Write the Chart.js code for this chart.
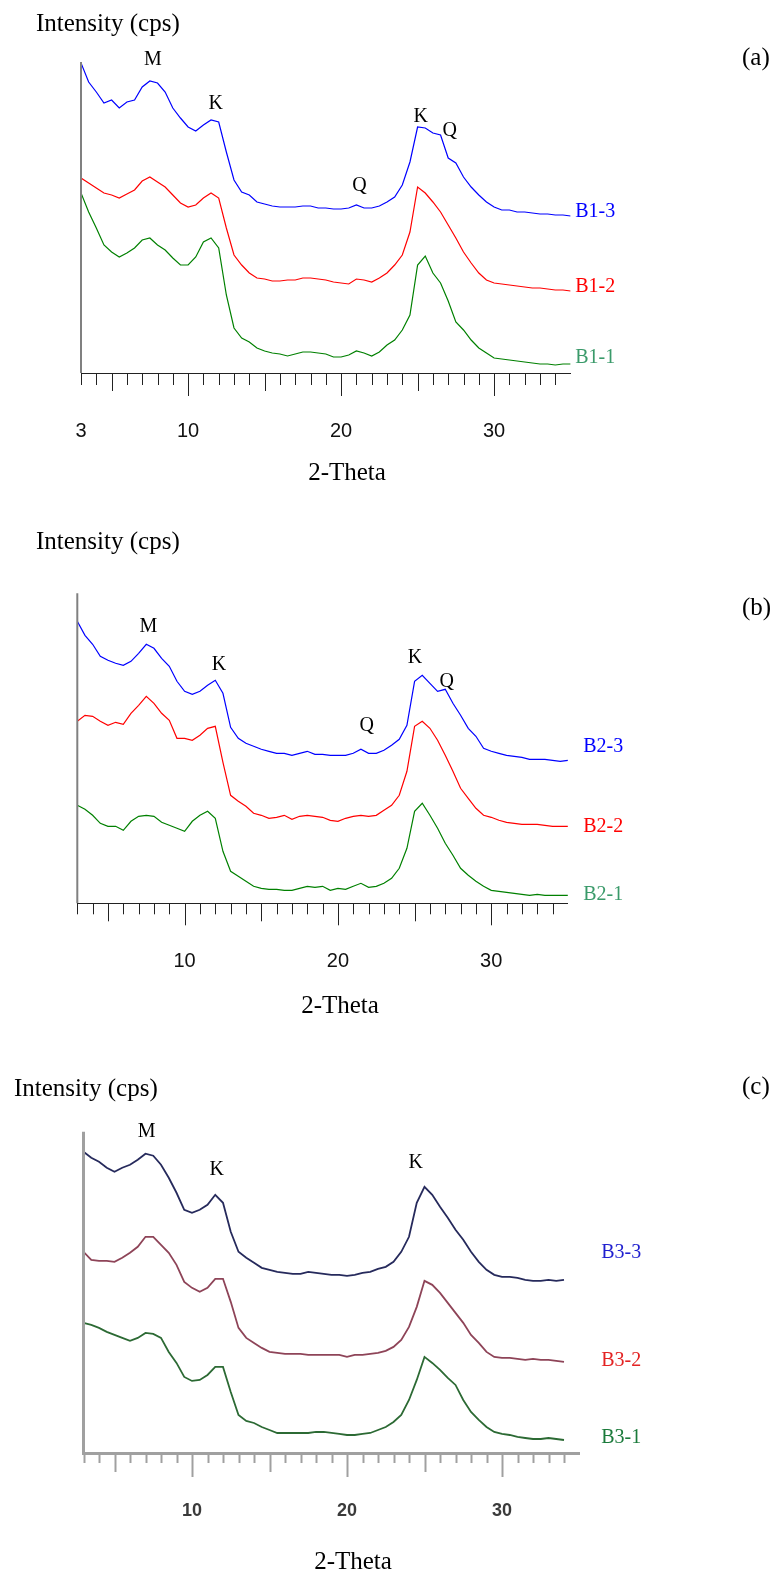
<!DOCTYPE html>
<html>
<head>
<meta charset="utf-8">
<script src="https://cdn.jsdelivr.net/npm/chart.js@4.4.1/dist/chart.umd.min.js"></script>
<style>
  html, body { margin: 0; padding: 0; background: #fff; overflow: hidden; }
  body { width: 782px; height: 1573px; position: relative; font-family: "Liberation Serif", "Times New Roman", serif; }
  .txt { position: absolute; white-space: nowrap; color: #000; line-height: 1; transform: translate(-50%, -50%); }
  .lft { transform: translate(0, -50%); }
  canvas { position: absolute; left: 0; }
</style>
</head>
<body>
<canvas id="chartA" width="782" height="509" style="top:0px"></canvas>
<canvas id="chartB" width="782" height="509" style="top:520px"></canvas>
<canvas id="chartC" width="782" height="529" style="top:1060px"></canvas>

<div class="txt lft" style="left:36px; top:22px; font-size:25px">Intensity (cps)</div>
<div class="txt lft" style="left:742px; top:56px; font-size:25px">(a)</div>
<div class="txt" style="left:347px; top:471px; font-size:25px">2-Theta</div>

<div class="txt lft" style="left:36px; top:540px; font-size:25px">Intensity (cps)</div>
<div class="txt lft" style="left:742px; top:606px; font-size:25px">(b)</div>
<div class="txt" style="left:340px; top:1004px; font-size:25px">2-Theta</div>

<div class="txt lft" style="left:14px; top:1087px; font-size:25px">Intensity (cps)</div>
<div class="txt lft" style="left:742px; top:1085px; font-size:25px">(c)</div>
<div class="txt" style="left:353px; top:1560px; font-size:25px">2-Theta</div>

<script>
// 2-theta positions (degrees)
const theta = [3, 3.5, 4, 4.5, 5, 5.5, 6, 6.5, 7, 7.5, 8, 8.5, 9, 9.5, 10, 10.5, 11, 11.5, 12, 12.5,
  13, 13.5, 14, 14.5, 15, 15.5, 16, 16.5, 17, 17.5, 18, 18.5, 19, 19.5, 20, 20.5, 21, 21.5, 22, 22.5,
  23, 23.5, 24, 24.5, 25, 25.5, 26, 26.5, 27, 27.5, 28, 28.5, 29, 29.5, 30, 30.5, 31, 31.5, 32, 32.5,
  33, 33.5, 34, 34.5, 35]
const thetaC = [3, 3.5, 4, 4.5, 5, 5.5, 6, 6.5, 7, 7.5, 8, 8.5, 9, 9.5, 10, 10.5, 11, 11.5, 12, 12.5,
  13, 13.5, 14, 14.5, 15, 15.5, 16, 16.5, 17, 17.5, 18, 18.5, 19, 19.5, 20, 20.5, 21, 21.5, 22, 22.5,
  23, 23.5, 24, 24.5, 25, 25.5, 26, 26.5, 27, 27.5, 28, 28.5, 29, 29.5, 30, 30.5, 31, 31.5, 32, 32.5,
  33, 33.5, 34]

// intensities (arbitrary units, offset stacked as in the figure)
const b13 = [310, 291, 281, 270, 273, 265, 271, 273, 286, 292, 290, 281, 265, 255, 246, 242, 248, 253, 251, 221,
  193, 181, 178, 171, 169, 167, 166, 166, 166, 167, 167, 165, 165, 164, 164, 165, 168, 165, 165, 167,
  171, 176, 188, 211, 246, 245, 240, 238, 215, 210, 196, 186, 178, 171, 166, 163, 163, 161, 161, 160,
  159, 159, 158, 158, 157]
const b12 = [195, 190, 185, 180, 178, 175, 179, 183, 192, 196, 191, 186, 178, 170, 166, 168, 175, 180, 175, 145,
  118, 108, 100, 95, 94, 92, 92, 93, 93, 95, 95, 94, 93, 91, 90, 89, 94, 93, 91, 95,
  100, 108, 118, 141, 186, 180, 171, 161, 148, 135, 121, 110, 100, 93, 90, 89, 88, 87, 86, 85,
  85, 84, 83, 83, 82]
const b11 = [180, 161, 145, 128, 121, 116, 120, 125, 133, 135, 128, 123, 115, 108, 108, 116, 131, 135, 125, 78,
  45, 35, 31, 25, 22, 20, 19, 17, 19, 21, 21, 20, 19, 16, 16, 18, 22, 20, 17, 21,
  28, 33, 43, 58, 108, 117, 100, 90, 72, 51, 43, 33, 25, 20, 15, 14, 13, 12, 11, 10,
  9, 9, 8, 9, 9]

const b23 = [282, 268, 259, 247, 243, 240, 238, 242, 250, 259, 255, 245, 237, 222, 212, 209, 212, 218, 223, 210,
  176, 165, 160, 157, 154, 152, 150, 150, 148, 150, 152, 149, 149, 148, 148, 148, 150, 154, 150, 150,
  153, 158, 164, 178, 222, 228, 220, 212, 214, 200, 188, 175, 167, 155, 152, 150, 148, 147, 146, 144,
  144, 144, 143, 142, 143]
const b22 = [182, 188, 187, 182, 178, 181, 179, 190, 198, 207, 200, 190, 183, 165, 165, 163, 168, 175, 177, 141,
  108, 102, 97, 90, 88, 85, 86, 88, 84, 87, 88, 87, 86, 83, 82, 85, 87, 88, 87, 88,
  93, 98, 108, 132, 177, 182, 175, 163, 148, 132, 115, 105, 95, 88, 86, 83, 81, 80, 79, 79,
  79, 78, 77, 77, 77]
const b21 = [98, 94, 88, 80, 77, 77, 73, 82, 87, 88, 87, 81, 78, 75, 72, 82, 88, 92, 85, 52,
  32, 27, 22, 17, 15, 14, 14, 13, 13, 15, 17, 16, 17, 13, 15, 14, 17, 20, 16, 17,
  20, 25, 35, 55, 92, 100, 88, 75, 60, 48, 35, 28, 22, 17, 13, 12, 11, 10, 9, 8,
  9, 8, 8, 8, 8]

const b33 = [301, 295, 291, 285, 281, 285, 288, 293, 299, 297, 288, 275, 260, 243, 240, 243, 248, 258, 250, 221,
  201, 195, 190, 185, 183, 181, 180, 179, 179, 181, 180, 179, 178, 178, 177, 178, 180, 181, 184, 186,
  191, 201, 216, 250, 266, 258, 246, 235, 223, 213, 201, 191, 183, 178, 176, 176, 175, 173, 172, 172,
  173, 172, 173]
const b32 = [201, 193, 192, 192, 191, 195, 200, 206, 216, 216, 208, 200, 188, 171, 165, 161, 165, 174, 174, 151,
  125, 115, 110, 105, 101, 100, 99, 99, 99, 98, 98, 98, 98, 98, 96, 98, 98, 99, 100, 102,
  106, 113, 126, 146, 172, 168, 160, 150, 140, 130, 118, 110, 101, 96, 95, 95, 94, 93, 94, 93,
  93, 92, 91]
const b31 = [130, 128, 125, 121, 118, 115, 112, 115, 120, 119, 115, 101, 90, 76, 72, 73, 78, 86, 86, 61,
  38, 32, 30, 26, 23, 20, 20, 20, 20, 20, 21, 21, 20, 19, 18, 18, 19, 20, 23, 26,
  31, 38, 53, 73, 96, 90, 83, 75, 68, 53, 41, 33, 26, 21, 19, 18, 16, 15, 14, 14,
  15, 14, 13]

const xLabelsA = [3, 10, 20, 30]
const xLabelsBC = [10, 20, 30]

// tick marks, axis line, peak letters and sample names
const xrdMarks = {
  id: 'xrdMarks',
  afterDraw(chart, args, o) {
    const ctx = chart.ctx
    const area = chart.chartArea
    const xs = chart.scales.x, ys = chart.scales.y
    ctx.save()
    // y axis
    ctx.strokeStyle = o.yAxisColor
    ctx.lineWidth = o.yAxisWidth
    ctx.beginPath()
    ctx.moveTo(area.left, area.top)
    ctx.lineTo(area.left, area.bottom)
    ctx.stroke()
    // x ticks
    ctx.strokeStyle = o.tickColor
    ctx.lineWidth = o.tickWidth
    for (let v = xs.min; v < xs.max; v++) {
      const px = Math.round(xs.getPixelForValue(v)) + 0.5
      const len = v % 10 == 0 ? o.tickLen[2] : (v % 5 == 0 ? o.tickLen[1] : o.tickLen[0])
      ctx.beginPath()
      ctx.moveTo(px, area.bottom)
      ctx.lineTo(px, area.bottom + len)
      ctx.stroke()
    }
    // peak letters
    ctx.font = '20px "Liberation Serif"'
    ctx.textAlign = 'center'
    ctx.textBaseline = 'middle'
    ctx.fillStyle = '#000'
    o.peaks.forEach(p => {
      ctx.fillText(p[0], xs.getPixelForValue(p[1]), ys.getPixelForValue(p[2]))
    })
    // sample names
    ctx.textAlign = 'left'
    o.tags.forEach((t, i) => {
      ctx.fillStyle = o.tagColors[i]
      ctx.fillText(t[0], xs.getPixelForValue(o.tagTheta), ys.getPixelForValue(t[1]))
    })
    ctx.restore()
  }
}

function makePanel(id, cfg) {
  const ctx = document.getElementById(id).getContext('2d')
  return new Chart(ctx, {
    type: 'line',
    data: {
      datasets: cfg.series.map(s => ({
        label: s[0],
        data: cfg.theta.map((t, i) => ({ x: t, y: s[1][i] })),
        borderColor: s[2],
        borderWidth: cfg.lineWidth,
        pointRadius: 0,
        fill: false,
        tension: 0
      }))
    },
    options: {
      responsive: false,
      animation: false,
      devicePixelRatio: 1,
      layout: { padding: cfg.pad },
      plugins: {
        legend: { display: false },
        tooltip: { enabled: false },
        xrdMarks: cfg.marks
      },
      scales: {
        x: {
          type: 'linear',
          min: 3,
          max: 35,
          afterBuildTicks: s => { s.ticks = cfg.xLabels.map(v => ({ value: v })) },
          ticks: {
            autoSkip: false,
            maxRotation: 0,
            padding: cfg.tickPad,
            font: cfg.tickFont,
            color: cfg.tickColor
          },
          grid: { display: false, drawTicks: false },
          border: { display: true, color: cfg.marks.tickColor, width: cfg.xAxisWidth }
        },
        y: { display: false, min: 0, max: cfg.yMax }
      }
    },
    plugins: [xrdMarks]
  })
}

makePanel('chartA', {
  theta: theta,
  series: [['B1-3', b13, '#0000ff'], ['B1-2', b12, '#ff0000'], ['B1-1', b11, '#008000']],
  lineWidth: 1.2,
  pad: { left: 81, right: 211.4, top: 62, bottom: 20 },
  yMax: 311,
  xLabels: xLabelsA,
  tickPad: 46,
  tickFont: { family: 'Liberation Sans', size: 20 },
  tickColor: '#111',
  xAxisWidth: 1,
  marks: {
    yAxisColor: '#808080', yAxisWidth: 2,
    tickColor: '#222', tickWidth: 1, tickLen: [12, 18, 23],
    peaks: [['M', 7.7, 313], ['K', 11.8, 269], ['Q', 21.2, 187], ['K', 25.2, 256], ['Q', 27.1, 242]],
    tagTheta: 35.3,
    tags: [['B1-3', 161], ['B1-2', 86], ['B1-1', 15]],
    tagColors: ['#0000ff', '#ff0000', '#3a9a6a']
  }
})

makePanel('chartB', {
  theta: theta,
  series: [['B2-3', b23, '#0000ff'], ['B2-2', b22, '#ff0000'], ['B2-1', b21, '#008000']],
  lineWidth: 1.2,
  pad: { left: 77.3, right: 214.1, top: 73.3, bottom: 9.7 },
  yMax: 310,
  xLabels: xLabelsBC,
  tickPad: 46,
  tickFont: { family: 'Liberation Sans', size: 20 },
  tickColor: '#111',
  xAxisWidth: 1,
  marks: {
    yAxisColor: '#808080', yAxisWidth: 2,
    tickColor: '#222', tickWidth: 1, tickLen: [11, 18, 22],
    peaks: [['M', 7.63, 277], ['K', 12.24, 239], ['Q', 21.88, 178], ['K', 25.03, 246], ['Q', 27.1, 222]],
    tagTheta: 36.0,
    tags: [['B2-3', 157], ['B2-2', 77], ['B2-1', 9]],
    tagColors: ['#0000ff', '#ff0000', '#3a9a6a']
  }
})

makePanel('chartC', {
  theta: thetaC,
  series: [['B3-3', b33, '#262a5c'], ['B3-2', b32, '#8e4458'], ['B3-1', b31, '#2c6a34']],
  lineWidth: 1.8,
  pad: { left: 83.5, right: 202.5, top: 71.7, bottom: 20.4 },
  yMax: 321,
  xLabels: xLabelsBC,
  tickPad: 47,
  tickFont: { family: 'Liberation Sans', size: 18, weight: 'bold' },
  tickColor: '#3a3a3a',
  xAxisWidth: 3,
  marks: {
    yAxisColor: '#a0a0a0', yAxisWidth: 3,
    tickColor: '#a0a0a0', tickWidth: 2, tickLen: [10, 19, 24],
    peaks: [['M', 7.08, 321], ['K', 11.59, 283], ['K', 24.43, 290]],
    tagTheta: 36.4,
    tags: [['B3-3', 200], ['B3-2', 92], ['B3-1', 15]],
    tagColors: ['#1f1fcf', '#e32222', '#1a7a3a']
  }
})
</script>
</body>
</html>
